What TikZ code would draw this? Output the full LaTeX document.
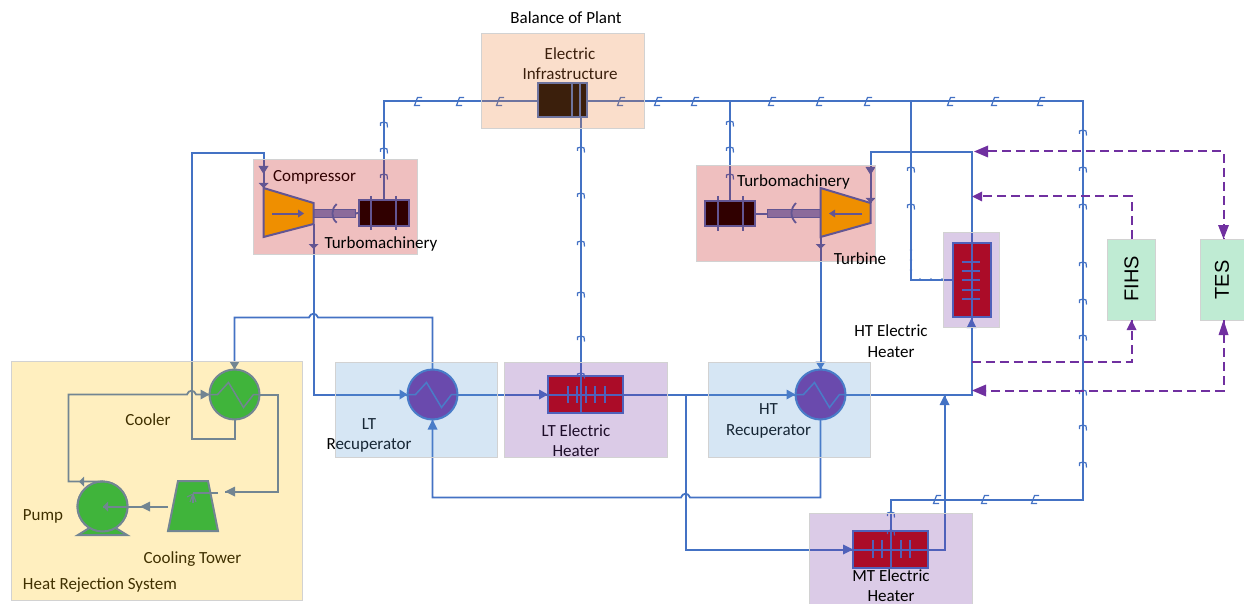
\documentclass[tikz,border=0pt]{standalone}
\usepackage{fontspec}
\setmainfont{Carlito}
\newfontfamily\armo{Liberation Sans}
\usetikzlibrary{calc}
\definecolor{ln}{HTML}{4472C4}
\definecolor{pu}{HTML}{7030A0}
\definecolor{orangeU}{HTML}{FFC000}
\definecolor{redU}{HTML}{C00000}
\definecolor{greenU}{HTML}{00B050}
\definecolor{redB}{HTML}{C00000}
\definecolor{blueB}{HTML}{5B9BD5}
\definecolor{purB}{HTML}{7030A0}
\definecolor{orB}{HTML}{ED7D31}
\definecolor{yeB}{HTML}{FFC000}
\definecolor{grB}{HTML}{00B050}
\definecolor{edge}{HTML}{D2D2D2}
\definecolor{shaftc}{HTML}{7A8FD0}
\tikzset{
  x=1pt,y=-1pt,
  every node/.style={inner sep=0pt,outer sep=0pt},
  flow/.style={draw=ln,line width=2pt,line join=miter},
  elec/.style={draw=ln,line width=2pt},
  dashline/.style={draw=pu,line width=2pt,dash pattern=on 9pt off 5pt},
  equip/.style={draw=ln,line width=2pt},
  hx/.style={circle,minimum size=50pt,equip,fill=pu},
  hxg/.style={circle,minimum size=50pt,equip,fill=greenU},
  heater/.style={rectangle,equip,fill=redU},
  gen/.style={rectangle,equip,fill=black,minimum width=50pt,minimum height=25pt},
  shaft/.style={rectangle,draw=ln,line width=1pt,fill=shaftc},
  area/.style={rectangle,draw=edge,line width=1pt,fill opacity=.25},
  lbl/.style={font=\fontsize{17pt}{20.5pt}\selectfont,align=center,text=black},
  thin part/.style={equip,line width=2pt},
  pics/vtk/.style={code={\draw[ln,line width=1.2pt] (-3.5,1) -- (-3.5,-2) .. controls (-1,-3.5) and (1,-3) .. (3,-2) -- (3.5,2.5);}},
  pics/htk/.style={code={\draw[ln,line width=1.2pt] (4,-4) -- (-.5,-4) -- (-3.5,4) -- (2,4);}},
}
\newcommand\tipH[5][ln]{\fill[#1] (#2,#3) -- (#2+#4,#3-#5) -- (#2+#4,#3+#5) -- cycle;}
\newcommand\tipV[5][ln]{\fill[#1] (#2,#3) -- (#2-#5,#3+#4) -- (#2+#5,#3+#4) -- cycle;}
\begin{document}
\begin{tikzpicture}
\useasboundingbox (0,0) rectangle (1244,604);
% ---------- equipment ----------
\node[hxg] (cooler) at (234.5,394.5) {};
\node[hxg] (pump) at (102.5,506.5) {};
\node[hx] (ltrec) at (432.5,394.5) {};
\node[hx] (htrec) at (820.5,394.5) {};
\node[heater,minimum width=75pt,minimum height=37pt] (ltheat) at (585.5,394.5) {};
\node[heater,minimum width=75pt,minimum height=37pt] (mtheat) at (890.5,549.5) {};
\node[heater,minimum width=38pt,minimum height=74pt] (htheat) at (971.5,280) {};
\node[rectangle,equip,fill=black,minimum width=49pt,minimum height=34pt] (infra) at (562.5,100) {};
\node[gen] (gena) at (383.5,213) {};
\node[gen] (genb) at (729.5,213.5) {};
\node[shaft,minimum width=42pt,minimum height=8pt] (shafta) at (334,213.5) {};
\node[shaft,minimum width=53pt,minimum height=8pt] (shaftb) at (793.5,213) {};
% compressor, turbine, tower, pump foot
\coordinate (cin) at (263.5,188);
\coordinate (cout) at (313.5,224);
\coordinate (tin) at (870.5,203);
\coordinate (tout) at (820.5,237);
\filldraw[fill=orangeU,equip,line join=miter] (cin) -- (313.5,203) -- (cout) -- (263.5,237) -- cycle;
\filldraw[fill=orangeU,equip,line join=miter] (820.5,188) -- (tin) -- (870.5,223) -- (tout) -- cycle;
\filldraw[fill=greenU,equip,line join=miter] (178,481) -- (208,481) -- (218,531) -- (168,531) -- cycle;
\filldraw[fill=greenU,equip,line join=miter] (91,527) -- (78,535) -- (127,535) -- (114,527) -- cycle;
\node[hxg] at (102.5,506.5) {};
% internals
\draw[thin part] (272,213.5) -- (300,213.5); \tipH{304}{213.5}{-6}{4}
\draw[thin part] (862,213.5) -- (833,213.5); \tipH{829}{213.5}{6}{4}
\draw[equip,line width=1.8pt] (336.7,204) .. controls (331,209) and (331,218) .. (336.7,222.7);
\draw[equip,line width=1.8pt] (796,203) .. controls (790,209) and (790,217) .. (796,223);
\draw[thin part] (355,213.5) -- (gena.west);
\draw[thin part] (767,213.5) -- (genb.east);
\foreach \x in {370.5,395.5} \draw[thin part] (\x,196) -- (\x,230);
\foreach \x in {717.5,742.5} \draw[thin part] (\x,196) -- (\x,231);
\foreach \x in {571.5,579.5} \draw[thin part] (\x,83) -- (\x,117);
\foreach \c in {ltrec,htrec,cooler}
  \draw[thin part,line width=1.5pt] ($(\c)+(-25,0)$) -- ($(\c)+(-17,0)$) -- ($(\c)+(-6,-12)$) -- ($(\c)+(9,13)$) -- ($(\c)+(19,0)$) -- ($(\c)+(25,0)$);
% heater bars
\foreach \x in {567.5,576.5,585.5,594.5,604.5} \draw[thin part] (\x,386) -- (\x,403);
\foreach \x in {872.5,881.5,900.5,909.5} \draw[thin part] (\x,540) -- (\x,558);
\foreach \y in {261.5,270.5,279.5,289.5,298.5} \draw[thin part] (962,\y) -- (980,\y);
% ---------- tinted labels (under the areas) ----------
\node[lbl] (tcomp) at (314.5,177) {Compressor};
\node[lbl] (tinfra) at (570,63.5) {Electric\\Infrastructure};
\node[lbl] (tlth) at (576,440.5) {LT Electric\\Heater};
\node[lbl,align=center] (tltr) at (369,435.5) {LT\\Recuperator};
\node[lbl] (thtr) at (768.5,421) {HT\\Recuperator};
\node[lbl] (tcool) at (148,420) {Cooler};
\node[lbl] (tpump) at (43,516) {Pump};
\node[lbl] (ttow) at (192.5,559) {Cooling Tower};
\node[lbl] (thrs) at (100,585) {Heat Rejection System};
% ---------- flow lines ----------
\coordinate (a1) at (191.5,153.5); \coordinate (a2) at (263.5,153.5);
\draw[flow] (cooler.south) -- (234.5,438.5) -- (191.5,438.5) -- (a1) -- (a2) -- (cin);
\tipV{263.5}{174}{-8}{5}\tipV{263.5}{188}{-5}{5}
\draw[flow] (cout) -- (313.5,394.5) -- (ltrec.west);
\tipV{313.5}{249}{-5}{5}\tipH{407.5}{394.5}{-8}{5}
\draw[flow,line width=1.8pt] (ltrec.north) -- (432.5,317.5) -- (318,317.5) .. controls (316.5,312.5) and (310.5,312.5) .. (309,317.5) -- (234.5,317.5) -- (cooler.north);
\tipV{234.5}{369.5}{-8}{5}
\draw[flow] (ltrec.east) -- (ltheat.west);
\tipH{548}{394.5}{-9}{5}
\draw[flow] (ltheat.west) -- (htrec.west);
\tipH{795.5}{394.5}{-9}{5}
\coordinate (br) at (685.5,394.5);
\draw[flow] (br) -- (685.5,549.5) -- (mtheat.west);
\tipH{853}{549.5}{-10}{5}
\draw[flow] (mtheat.west) -- (944.5,549.5) -- (944.5,395);
\tipV{944.5}{395}{10}{5}
\draw[flow] (htrec.east) -- (971.5,394.5) -- (htheat.south);
\tipV{971.5}{318}{10}{5}
\draw[flow] (971.5,394.5) -- (971.5,152.5) -- (870.5,152.5) -- (tin);
\tipV{870.5}{175}{-8}{5}\tipV{870.5}{203}{-5}{5}
\draw[flow] (tout) -- (htrec.north);
\tipV{820.5}{249}{-5}{5}\tipV{820.5}{369.5}{-8}{5}
\draw[flow,line width=1.8pt] (htrec.south) -- (820.5,497.5) -- (690,497.5) .. controls (688.5,492.5) and (682.5,492.5) .. (681,497.5) -- (432.5,497.5) -- (ltrec.south);
\tipV{432.5}{419.5}{10}{5}
% heat rejection loop
\draw[flow] (cooler.east) -- (277.5,394.5) -- (277.5,491.5) -- (225,491.5);
\tipH{225}{491.5}{10}{5}
\draw[flow] (218,493) -- (193,493);
\foreach \p in {(187,497),(190,502),(193,503),(196,502)} \draw[flow,line width=1.1pt] (193,494) -- \p;
\draw[flow] (168,506.5) -- (pump.center);
\tipH{140}{506.5}{10}{5}\tipH{103}{506.5}{5}{5}
\draw[flow,line width=1.8pt] (pump.north) -- (68.5,481.5) -- (68.5,394.5) -- (187,394.5) .. controls (188.5,389.5) and (194.5,389.5) .. (196,394.5) -- (cooler.west);
\tipH{79}{481.5}{5}{5}\tipH{209.5}{394.5}{-9}{5}
% ---------- electric lines ----------
\coordinate (e1) at (383.5,101.5);
\coordinate (e2) at (1082.5,101.5);
\coordinate (e3) at (1082.5,499.5);
\coordinate (e4) at (890.5,499.5);
\coordinate (j1) at (729.5,101.5);
\coordinate (j2) at (910.5,101.5);
\draw[elec] (infra.west |- e1) -- (e1) -- (gena.north);
\draw[elec] (infra.east |- e1) -- (e2) -- (e3) -- (e4) -- (mtheat.north) -- (mtheat.south);
\draw[elec] (580.5,117) -- (580.5,413);
\draw[elec] (j1) -- (genb.north);
\draw[elec] (j2) -- (910.5,279.5) -- (htheat.west |- 0,279.5);
\foreach \x in {418,460,500,621,658,695,772,820,868,951,995,1041}
  \pic at (\x,101.5) {htk};
\foreach \x in {937,985,1035} \pic at (\x,499.5) {htk};
\foreach \y in {125,151,177} \pic at (384,\y) {vtk};
\foreach \y in {150,196,244,295,339,376} \pic at (581,\y) {vtk};
\foreach \y in {124,150,177} \pic at (730,\y) {vtk};
\foreach \y in {133,170,207,265,302,338,393,428,465} \pic at (1083,\y) {vtk};
\foreach \y in {170,207} \pic at (911,\y) {vtk};
\foreach \y in {515,533} \pic at (891,\y) {vtk};
\foreach \p in {(911,250),(911,260),(911,270),(920,279.5),(931,279.5),(942,279.5),(890.5,550)} \fill[ln] \p circle (1.4);
% ---------- storage dashed lines ----------
\coordinate (d1) at (1223.5,151.5);
\coordinate (d2) at (1223.5,390.5);
\coordinate (d3) at (1131.5,196.5);
\coordinate (d4) at (1131.5,361.5);
% ---------- areas (translucent over the equipment) ----------
\node[area,fill=yeB,minimum width=291pt,minimum height=239pt] (hrs) at (156.5,480.5) {};
\node[area,fill=orB,minimum width=163pt,minimum height=95pt] (bop) at (562.5,81.5) {};
\node[area,fill=redB,minimum width=164pt,minimum height=94pt] (tma) at (335,207) {};
\node[area,fill=redB,minimum width=179pt,minimum height=95pt] (tmb) at (785.5,213.5) {};
\node[area,fill=blueB,minimum width=162pt,minimum height=95pt] (ltra) at (416,409.5) {};
\node[area,fill=purB,minimum width=163pt,minimum height=95pt] (ltha) at (585.5,409.5) {};
\node[area,fill=blueB,minimum width=162pt,minimum height=95pt] (htra) at (789,409.5) {};
\node[area,fill=purB,minimum width=163pt,minimum height=91pt] (mtha) at (890.5,558.5) {};
\node[area,fill=purB,minimum width=56pt,minimum height=95pt] (htha) at (971,279.5) {};
\node[area,fill=grB,minimum width=48pt,minimum height=81pt] (fihs) at (1131.5,279.5) {};
\node[area,fill=grB,minimum width=44pt,minimum height=81pt] (tes) at (1222,279.5) {};
% ---------- dashed connectors ----------
\draw[dashline] (988,151.5) -- (d1) -- (d1 |- tes.north);
\tipH[pu]{974}{151.5}{14}{6}\tipV[pu]{1223.5}{239}{-14}{5.5}
\draw[dashline] (d2 |- tes.south) -- (d2) -- (986,390.5);
\tipV[pu]{1223.5}{320}{15}{5}\tipH[pu]{972}{390.5}{14}{6}
\draw[dashline] (fihs.north) -- (d3) -- (982,196.5);
\tipH[pu]{972}{196.5}{10}{5}
\draw[dashline] (971.5,361.5) -- (d4) -- (fihs.south);
\tipV[pu]{1131.5}{320}{10}{5}
% ---------- labels on top ----------
\node[lbl] (tbop) at (566,18) {Balance of Plant};
\node[lbl] (tmachb) at (793.5,182) {Turbomachinery};
\node[lbl] (tmacha) at (381,244) {Turbomachinery};
\node[lbl] (tturb) at (860,259) {Turbine};
\node[lbl] (thth) at (891,341) {HT Electric\\Heater};
\node[lbl] (tmth) at (891,585.5) {MT Electric\\Heater};
\node[font=\armo\fontsize{20pt}{20pt}\selectfont,rotate=90] (tfihs) at (1131.5,279) {FIHS};
\node[font=\armo\fontsize{20pt}{20pt}\selectfont,rotate=90] (ttes) at (1222,280) {TES};
\end{tikzpicture}
\end{document}
